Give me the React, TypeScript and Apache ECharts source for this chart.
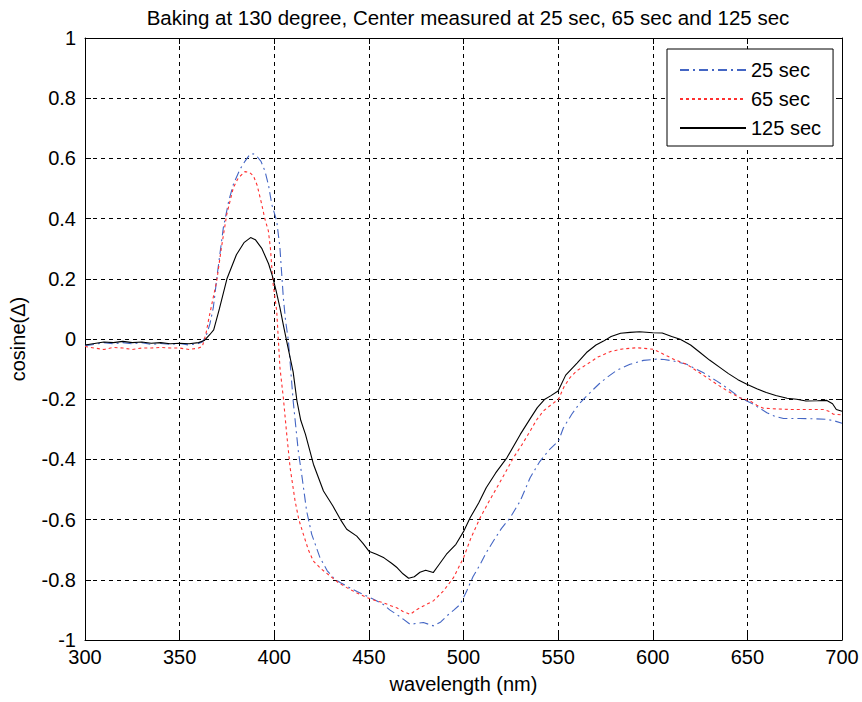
import React, { useEffect, useRef } from "react";
import * as echarts from "echarts";

const titleText = "Baking at 130 degree, Center measured at 25 sec, 65 sec and 125 sec";
const xName = "wavelength (nm)";
const yName = "cosine(\u0394)";
const seriesNames = ["25 sec", "65 sec", "125 sec"];

const wl25 = [300,305,310,315,320,325,330,335,340,345,350,355,360,362,364,366,367.8,370,373.1,376,378.4,381.9,384.5,387.2,389,390.7,393,395.1,397,398.7,401.3,403,404.8,406,407.5,410,412.7,414.5,417.1,419.8,424.2,428,431.2,435,438.3,444,448.9,453,457.7,461,464.7,468,471.8,475,478.8,484.1,488,491.2,495,498.2,501.7,505,508.8,512,515.8,520,524.6,530,535.2,540,545,550.2,552.8,557.2,561.6,565,568.7,572,575.7,581,588,595.1,602.1,606,610.9,618,622,626.8,633.9,639.1,646.2,653.2,660.3,665,669.1,677.9,685,692,696,700];
const val25 = [-0.022,-0.018,-0.012,-0.016,-0.012,-0.016,-0.012,-0.018,-0.015,-0.018,-0.015,-0.02,-0.015,-0.01,0.01,0.05,0.104,0.22,0.37,0.46,0.514,0.564,0.59,0.614,0.615,0.608,0.59,0.558,0.51,0.447,0.392,0.303,0.137,0.06,-0.007,-0.206,-0.372,-0.45,-0.571,-0.649,-0.727,-0.77,-0.793,-0.81,-0.821,-0.84,-0.854,-0.866,-0.882,-0.9,-0.915,-0.93,-0.948,-0.945,-0.942,-0.953,-0.94,-0.92,-0.9,-0.882,-0.837,-0.79,-0.749,-0.71,-0.671,-0.63,-0.594,-0.538,-0.461,-0.41,-0.37,-0.339,-0.295,-0.25,-0.212,-0.19,-0.167,-0.147,-0.128,-0.104,-0.084,-0.071,-0.067,-0.068,-0.073,-0.084,-0.097,-0.112,-0.14,-0.162,-0.195,-0.217,-0.245,-0.258,-0.264,-0.264,-0.265,-0.267,-0.272,-0.28];

const wl65 = [300,305,310,315,320,325,330,335,340,345,350,355,360,362,364,365.5,367.5,369.6,372,374.9,378.4,381,384.5,387,389,391,393.4,395,396.9,398,399.2,401.3,403,404.8,406.6,408.4,411,413,415.4,418,420.7,425,429.5,434,438.3,444,448.9,453,457.7,461,464.7,468,471.8,475,478.8,484.1,489.4,494.7,500,504,508.8,513,517.6,522,526.4,531,535.2,538.5,542.2,546,550.2,553,556.3,560,565.2,571,577.5,584,591.6,600.4,604,607.4,612,618,623,628.6,635,640.9,646,651.5,655,658.5,665,672,677.9,684,690.2,693,695.5,700];
const val65 = [-0.025,-0.03,-0.035,-0.028,-0.03,-0.035,-0.03,-0.03,-0.028,-0.03,-0.03,-0.035,-0.03,-0.025,0.02,0.07,0.13,0.193,0.3,0.414,0.503,0.535,0.556,0.553,0.542,0.51,0.447,0.4,0.359,0.3,0.193,0.093,-0.095,-0.195,-0.317,-0.428,-0.538,-0.6,-0.649,-0.7,-0.738,-0.765,-0.787,-0.81,-0.826,-0.845,-0.859,-0.868,-0.876,-0.885,-0.893,-0.905,-0.915,-0.9,-0.887,-0.87,-0.837,-0.793,-0.727,-0.66,-0.594,-0.545,-0.494,-0.445,-0.394,-0.35,-0.306,-0.27,-0.239,-0.22,-0.2,-0.16,-0.128,-0.105,-0.084,-0.06,-0.042,-0.033,-0.029,-0.034,-0.045,-0.056,-0.07,-0.084,-0.105,-0.128,-0.155,-0.178,-0.195,-0.206,-0.22,-0.23,-0.232,-0.234,-0.234,-0.234,-0.234,-0.24,-0.25,-0.252];

const wl125 = [300,305,310,315,320,325,330,335,340,345,350,355,360,363,366,368,371,375,380,384,387.5,390,393.5,397,399,401,403,405,407,410,412,414,416.5,420.7,426,431,435,438.3,443.6,447,450,454,458,462,465,468,471,474,477,480,484,487,491,496,500,503.5,508,512,517,523,530,535,539,543,546,550,554,560,565,570,574,578,583,588,593,600,605,610,614.5,620,625,630,635.6,640,645,650,655,660,665,671,676,681,687,692,695,697,700];
const val125 = [-0.02,-0.015,-0.01,-0.012,-0.008,-0.012,-0.01,-0.014,-0.012,-0.016,-0.014,-0.016,-0.012,-0.005,0.015,0.03,0.1,0.2,0.28,0.32,0.337,0.33,0.3,0.25,0.21,0.16,0.104,0.04,-0.02,-0.11,-0.206,-0.27,-0.317,-0.416,-0.505,-0.555,-0.6,-0.632,-0.655,-0.68,-0.705,-0.715,-0.727,-0.745,-0.76,-0.78,-0.795,-0.79,-0.775,-0.768,-0.776,-0.75,-0.715,-0.682,-0.64,-0.594,-0.545,-0.494,-0.445,-0.394,-0.317,-0.267,-0.228,-0.2,-0.189,-0.173,-0.12,-0.08,-0.045,-0.02,-0.007,0.008,0.019,0.022,0.024,0.021,0.02,0.008,-0.001,-0.02,-0.045,-0.07,-0.095,-0.115,-0.135,-0.151,-0.165,-0.178,-0.188,-0.197,-0.2,-0.206,-0.205,-0.204,-0.215,-0.234,-0.24];

const FONT = "'Liberation Sans', Arial, Helvetica, sans-serif";

function pairs(xs: number[], ys: number[]) {
  return xs.map((x, i) => [x, ys[i]]);
}

export default function App() {
  const ref = useRef<HTMLDivElement>(null);
  useEffect(() => {
    if (!ref.current) return;
    const chart = echarts.init(ref.current, undefined, { renderer: "svg" });
    const tickLabel = (v: number) => String(Math.round(v * 10) / 10);
    const gridDash = { color: "#000", width: 1, type: [4, 4] as any };
    chart.setOption({
      animation: false,
      backgroundColor: "#fff",
      textStyle: { fontFamily: FONT },
      title: {
        text: titleText,
        left: 463,
        top: 2,
        textAlign: "center",
        textStyle: { fontFamily: FONT, fontSize: 20.5, fontWeight: "normal", color: "#000" },
      },
      grid: { left: 85, right: 20, top: 38, bottom: 62, containLabel: false },
      legend: {
        orient: "vertical",
        left: 667,
        top: 49,
        padding: [11, 12, 8, 12],
        itemWidth: 66,
        itemHeight: 14,
        itemGap: 9,
        backgroundColor: "#fff",
        borderColor: "#000",
        borderWidth: 1,
        itemStyle: { opacity: 0 },
        textStyle: { fontFamily: FONT, fontSize: 20, color: "#000" },
        data: seriesNames,
      },
      xAxis: [
        {
          type: "value",
          min: 300,
          max: 700,
          interval: 50,
          name: xName,
          nameLocation: "middle",
          nameGap: 34,
          nameTextStyle: { fontFamily: FONT, fontSize: 20, color: "#000" },
          axisLine: { show: true, onZero: false, lineStyle: { color: "#000", width: 1 } },
          axisTick: { show: true, inside: true, length: 6, lineStyle: { color: "#000" } },
          axisLabel: { fontFamily: FONT, fontSize: 20, color: "#000", margin: 7, formatter: tickLabel },
          splitLine: { show: true, lineStyle: gridDash },
        },
        {
          type: "value",
          position: "top",
          min: 300,
          max: 700,
          interval: 50,
          axisLine: { show: true, onZero: false, lineStyle: { color: "#000", width: 1 } },
          axisTick: { show: true, inside: true, length: 6, lineStyle: { color: "#000" } },
          axisLabel: { show: false },
          splitLine: { show: false },
        },
      ],
      yAxis: [
        {
          type: "value",
          min: -1,
          max: 1,
          interval: 0.2,
          name: yName,
          nameLocation: "middle",
          nameGap: 57,
          nameTextStyle: { fontFamily: FONT, fontSize: 20, color: "#000" },
          axisLine: { show: true, onZero: false, lineStyle: { color: "#000", width: 1 } },
          axisTick: { show: true, inside: true, length: 6, lineStyle: { color: "#000" } },
          axisLabel: { fontFamily: FONT, fontSize: 20, color: "#000", margin: 9, formatter: tickLabel },
          splitLine: { show: true, lineStyle: gridDash },
        },
        {
          type: "value",
          position: "right",
          min: -1,
          max: 1,
          interval: 0.2,
          axisLine: { show: true, onZero: false, lineStyle: { color: "#000", width: 1 } },
          axisTick: { show: true, inside: true, length: 6, lineStyle: { color: "#000" } },
          axisLabel: { show: false },
          splitLine: { show: false },
        },
      ],
      series: [
        {
          name: seriesNames[0],
          type: "line",
          xAxisIndex: 0,
          yAxisIndex: 0,
          symbol: "none",
          data: pairs(wl25, val25),
          lineStyle: { color: "#4466c4", width: 1.1, type: [9, 4, 2, 4] },
          itemStyle: { color: "#4466c4" },
          z: 3,
        },
        {
          name: seriesNames[1],
          type: "line",
          xAxisIndex: 0,
          yAxisIndex: 0,
          symbol: "none",
          data: pairs(wl65, val65),
          lineStyle: { color: "#ff3030", width: 1.1, type: [3, 3] },
          itemStyle: { color: "#ff3030" },
          z: 4,
        },
        {
          name: seriesNames[2],
          type: "line",
          xAxisIndex: 0,
          yAxisIndex: 0,
          symbol: "none",
          data: pairs(wl125, val125),
          lineStyle: { color: "#000", width: 1.1, type: "solid" },
          itemStyle: { color: "#000" },
          z: 5,
        },
      ],
    });
    return () => chart.dispose();
  }, []);
  return (
    <div
      ref={ref}
      style={{ position: "fixed", left: 0, top: 0, width: 862, height: 702, background: "#fff" }}
    />
  );
}
